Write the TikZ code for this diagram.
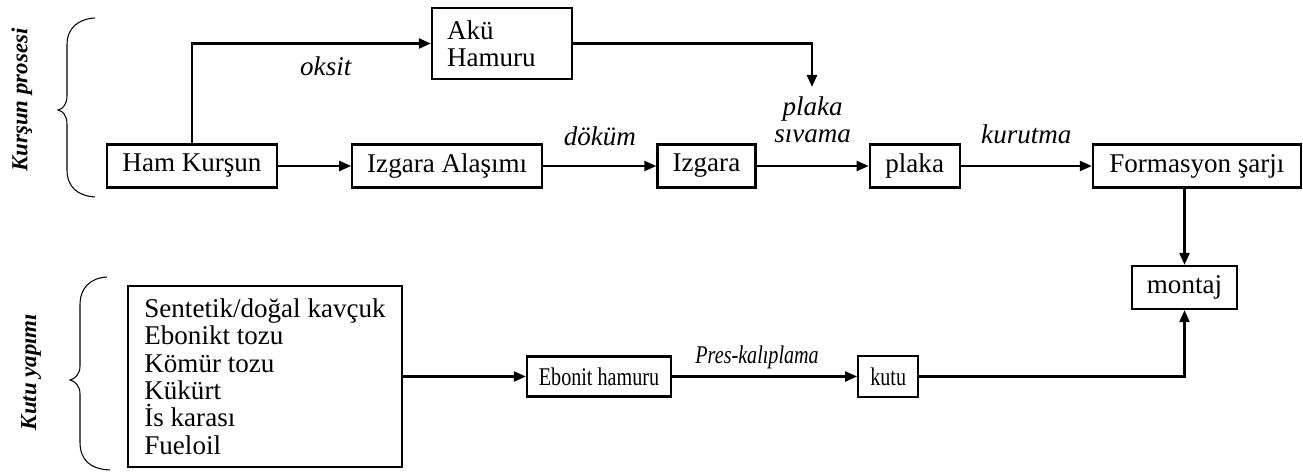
\documentclass[tikz,border=0pt]{standalone}
\usepackage{fontspec}
\setmainfont{Liberation Serif}
\newfontfamily\narrowserif[FakeStretch=0.79]{Liberation Serif}
\usetikzlibrary{arrows.meta,positioning}
\tikzset{
  box/.style={draw,line width=1.3pt,inner sep=0pt,minimum height=8.6mm,
              font=\fontsize{15.4}{15.6}\selectfont},
  sbox/.style={box,font=\narrowserif\fontsize{14.5}{15}\selectfont},
  lab/.style={font=\fontsize{15.4}{15.6}\selectfont\itshape,inner sep=0pt,
              text depth=0pt},
  slab/.style={lab,font=\narrowserif\fontsize{14.5}{15}\selectfont\itshape},
  side/.style={font=\fontsize{13}{13}\selectfont\bfseries\itshape,rotate=90,
               inner sep=0pt},
  ar/.style={-{Triangle[length=2.4mm,width=2mm]},line width=1.3pt},
  brc/.style={line width=0.6pt},
}
\begin{document}
\begin{tikzpicture}[x=0.02cm,y=-0.02cm]
    \useasboundingbox (0,0) rectangle (1303,475);
    % kursun prosesi
    \node[box,minimum width=34mm] (ham) at (192,166) {Ham Kurşun};
    \node[box,minimum width=38mm,right=14.6mm of ham] (izal) {Izgara Alaşımı};
    \node[box,minimum width=19.6mm,right=22.6mm of izal] (izg) {Izgara};
    \node[box,minimum width=18mm,right=22.4mm of izg] (plk) {plaka};
    \node[box,minimum width=41.6mm,right=26.2mm of plk] (form) {Formasyon şarjı};
    \node[box,align=left,text width=22mm,inner xsep=3mm,minimum height=14.2mm] (aku) at (502,43.5) {Akü\\Hamuru};
    \node[box,minimum width=21mm] (mont) at (1184.5,287.5) {montaj};
    % kutu yapimi
    \node[box,align=left,minimum width=54.8mm,minimum height=36.2mm] (sent) at (265,376.5)
      {Sentetik/doğal kavçuk\\Ebonikt tozu\\Kömür tozu\\Kükürt\\İs karası\\Fueloil};
    \node[sbox,minimum width=28.8mm,minimum height=8mm] (ebo) at (599,376.5) {Ebonit hamuru};
    \node[sbox,minimum width=12mm,minimum height=8.2mm,right=37mm of ebo] (kutu) {kutu};
    \coordinate (sivuc) at (812,87);
    \draw[ar](ham)--(izal);
    \draw[ar](izal)--node[lab,above=3.8mm]{döküm}(izg);
    \draw[ar](izg)--node[lab,above=4.4mm,align=center]{plaka\\sıvama}(plk);
    \draw[ar](plk)--node[lab,above=4.2mm]{kurutma}(form);
    \draw[ar](ham.north)|-node[lab,below=2.4mm,pos=0.78]{oksit}(aku.west);
    \draw[ar](aku.east)-|(sivuc);
    \draw[ar](mont.north |- form.south)--(mont.north);
    \draw[ar](sent)--(ebo);
    \draw[ar](ebo)--node[slab,above=2.3mm,xshift=-1.5mm]{Pres-kalıplama}(kutu);
    \draw[ar](kutu)-|(mont.south);
    % braces
    \draw[brc] (95,18) .. controls (78,19) and (67,28) .. (67,45) -- (67,96)
      .. controls (67,104) and (63,109) .. (58,110) .. controls (63,111) and (67,116) .. (67,124)
      -- (67,170) .. controls (67,187) and (78,196) .. (95,197);
    \draw[brc] (107,277) .. controls (90,278) and (80,288) .. (80,305) -- (80,366)
      .. controls (80,374) and (75,379) .. (70,380) .. controls (75,381) and (80,386) .. (80,394)
      -- (80,442) .. controls (80,460) and (90,469) .. (110,470);
    \node[side] (kproc) at (22,100) {Kurşun prosesi};
    \node[side] (kyap) at (31,372) {Kutu yapımı};
  \end{tikzpicture}
\end{document}
